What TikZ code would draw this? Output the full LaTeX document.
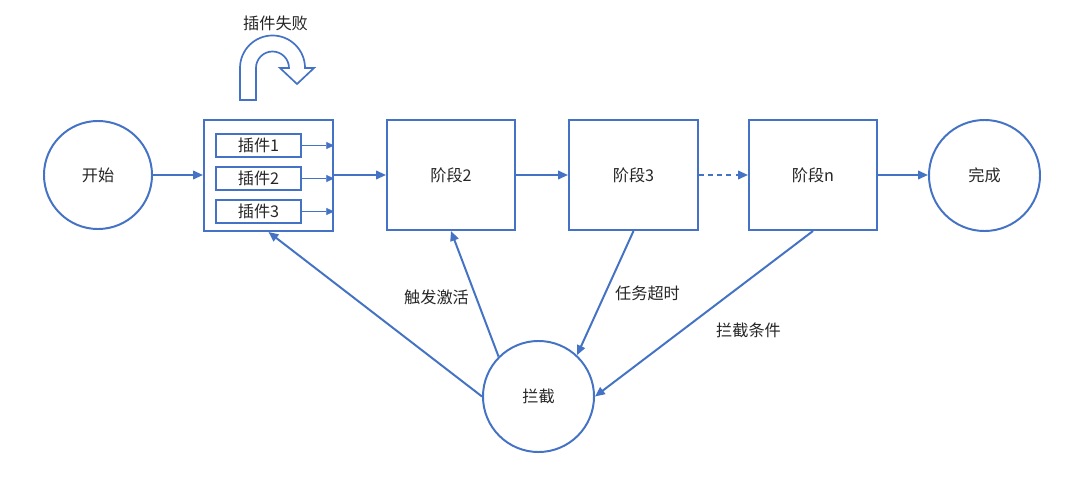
\documentclass[tikz,border=0pt]{standalone}
\usepackage{fontspec}
\setmainfont{Noto Sans CJK SC}
\usetikzlibrary{arrows.meta}
\definecolor{ob}{HTML}{4472C4}
\definecolor{tx}{HTML}{262626}
\begin{document}
\begin{tikzpicture}[x=0.025cm,y=-0.025cm,
  every node/.style={font=\fontsize{11.5pt}{13pt}\selectfont, text=tx},
  circ/.style={circle, draw=ob, line width=1.4pt, fill=white, minimum size=#1, inner sep=0pt},
  box/.style={rectangle, draw=ob, line width=1.4pt, fill=white, minimum width=3.2cm, minimum height=2.75cm, inner sep=0pt},
  pbox/.style={rectangle, draw=ob, line width=1.4pt, fill=white, minimum width=2.125cm, minimum height=0.575cm, inner sep=0pt},
  conn/.style={draw=ob, line width=1.4pt, -{Triangle[length=7pt,width=6pt]}},
  thinconn/.style={draw=ob, line width=0.6pt, -{Triangle[length=5.5pt,width=5pt]}},
  lbl/.style={inner sep=0pt}
]
\useasboundingbox (0,0) rectangle (1080,480);
\fill[white] (0,0) rectangle (1080,480);

% nodes
\node[circ=2.7cm] (start) at (98,175) {开始};
\node[box, minimum width=3.225cm, minimum height=2.775cm] (plug) at (268.5,175.5) {};
\node[pbox] (p1) at (258.5,145.5) {插件1};
\node[pbox] (p2) at (258.5,178.5) {插件2};
\node[pbox] (p3) at (258.5,211.5) {插件3};
\node[box] (s2) at (451,175) {阶段2};
\node[box, minimum width=3.225cm] (s3) at (633.5,175) {阶段3};
\node[box] (sn) at (813,175) {阶段n};
\node[circ=2.775cm] (done) at (984.5,175.5) {完成};
\node[circ=2.775cm] (int) at (538.5,396.5) {拦截};

% U-turn arrow
\draw[ob, line width=1.2pt, fill=white, line join=miter]
  (240,100) -- (240,68) arc[start angle=180, end angle=0, radius=0.8125cm]
  -- (314,68) -- (297,84) -- (280,68) -- (289,68)
  arc[start angle=0, end angle=180, radius=0.4125cm]
  -- (256,100) -- cycle;
\node[lbl] (fail) at (275.5,23.5) {插件失败};

% main flow
\path[conn] (start.east) -- (start.east -| plug.west);
\path[thinconn] (p1.east) -- (p1.east -| plug.east);
\path[thinconn] (p2.east) -- (p2.east -| plug.east);
\path[thinconn] (p3.east) -- (p3.east -| plug.east);
\path[conn] (plug.east |- s2.west) -- (s2.west);
\path[conn] (s2.east) -- (s3.west);
\path[conn, dash pattern=on 3.5pt off 3pt] (s3.east) -- (sn.west);
\path[conn] (sn.east) -- (sn.east -| done.west);

% interception flows
\path[conn] (int.west) -- (plug.south);
\path[conn] (int.135) -- (s2.south);
\path[conn] (s3.south) -- (int.47);
\path[conn] (sn.south) -- (int.east);

% labels
\node[lbl] (l1) at (436.5,297) {触发激活};
\node[lbl] (l2) at (647.5,293.5) {任务超时};
\node[lbl] (l3) at (748.5,330) {拦截条件};
\end{tikzpicture}
\end{document}
